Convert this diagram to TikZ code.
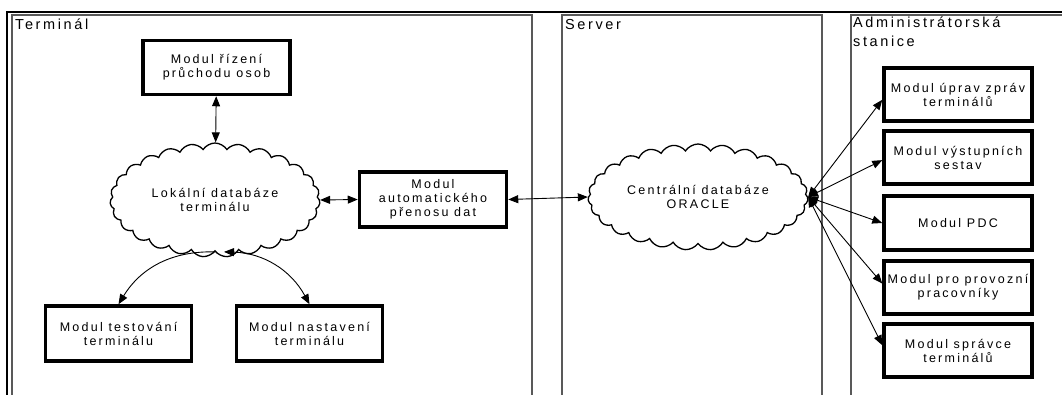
\documentclass[tikz,border=0pt]{standalone}
\usepackage{fontspec}
\setmainfont{Liberation Sans}[LetterSpace=18]
\usetikzlibrary{shapes.symbols, arrows.meta, positioning}

\tikzset{
  modul/.style={draw, line width=3.5pt, minimum width=147pt, minimum height=54pt,
    align=center, inner sep=2pt, font=\fontsize{12.5}{14}\selectfont},
  oblak/.style={draw, cloud, cloud puffs=27, cloud puff arc=115, cloud ignores aspect,
    line width=1.3pt, align=center, inner sep=0pt, font=\fontsize{12.5}{14}\selectfont},
  panel/.style={draw=black!65, line width=1.3pt},
  popis/.style={anchor=north west, inner sep=0pt, align=left,
    font=\fontsize{14.5}{19}\selectfont},
  spoj/.style={{Triangle[length=10pt,width=8pt]}-{Triangle[length=10pt,width=8pt]}, line width=0.9pt},
  jednosmer/.style={-{Triangle[length=10pt,width=8pt]}, line width=0.9pt},
}

\begin{document}
\begin{tikzpicture}[x=1pt, y=-1pt]

\useasboundingbox (0,0) rectangle (1062,394);
\clip (0,0) rectangle (1062,394);

% Vnejsi ramecek
\draw[line width=1.3pt] (7,420) -- (7,12) -- (1070,12);

% Terminal
\draw[panel] (12,420) -- (12,15) -- (532,15) -- (532,420);
\node[popis] (terminal) at (15,19) {Terminál};

% Server
\draw[panel] (562,420) -- (562,15) -- (822,15) -- (822,420);
\node[popis] (server) at (565,19) {Server};

% Administratorska stanice
\draw[panel] (851,420) -- (851,15) -- (1070,15);
\node[popis] (admin) at (853,17) {Administrátorská\\stanice};

% Moduly terminalu
\node[modul] (rizeni) at (216.5,67.5) {Modul řízení\\průchodu osob};
\node[oblak, minimum width=210pt, minimum height=114pt] (lokal) at (215,200) {Lokální databáze\\terminálu};
\node[modul, minimum height=55pt] (prenos) at (433,199.5) {Modul\\automatického\\přenosu dat};
\node[modul, minimum width=146pt, minimum height=55pt] (test) at (118.5,333.5) {Modul testování\\terminálu};
\node[modul, minimum width=146pt, minimum height=55pt] (nastav) at (309.5,333.5) {Modul nastavení\\terminálu};

% Centralni databaze
\node[oblak, minimum width=220pt, minimum height=106pt] (central) at (698,197) {Centrální databáze\\ORACLE};

% Moduly administratorske stanice
\node[modul, minimum width=148pt, minimum height=53pt] (upravy) at (958,94.5) {Modul úprav zpráv\\terminálů};
\node[modul, minimum width=148pt, minimum height=53pt] (sestavy) at (958,157.5) {Modul výstupních\\sestav};
\node[modul, minimum width=148pt, minimum height=54pt] (pdc) at (958,223) {Modul PDC};
\node[modul, minimum width=148pt, minimum height=53pt] (provoz) at (958,287.5) {Modul pro provozní\\pracovníky};
\node[modul, minimum width=148pt, minimum height=53pt] (spravce) at (958,350.5) {Modul správce\\terminálů};

% Spoje v terminalu
\draw[spoj] (rizeni) -- (lokal);
\draw[spoj] (lokal.east) -- (prenos.west);
\draw[jednosmer] (lokal.south) to[bend right=30] (test.north);
\draw[spoj] ([xshift=9pt]lokal.south) to[bend left=30] (nastav.north);

% Spoj na server
\draw[spoj] (prenos.east) -- (central.west);

% Vejir k administratorske stanici
\draw[spoj] (central.east) -- (upravy.184);
\draw[spoj] (central.east) -- (sestavy.182);
\draw[spoj] (central.east) -- (pdc.west);
\draw[spoj] (central.east) -- (provoz.177);
\draw[spoj] (central.east) -- (spravce.176);

\end{tikzpicture}
\end{document}
